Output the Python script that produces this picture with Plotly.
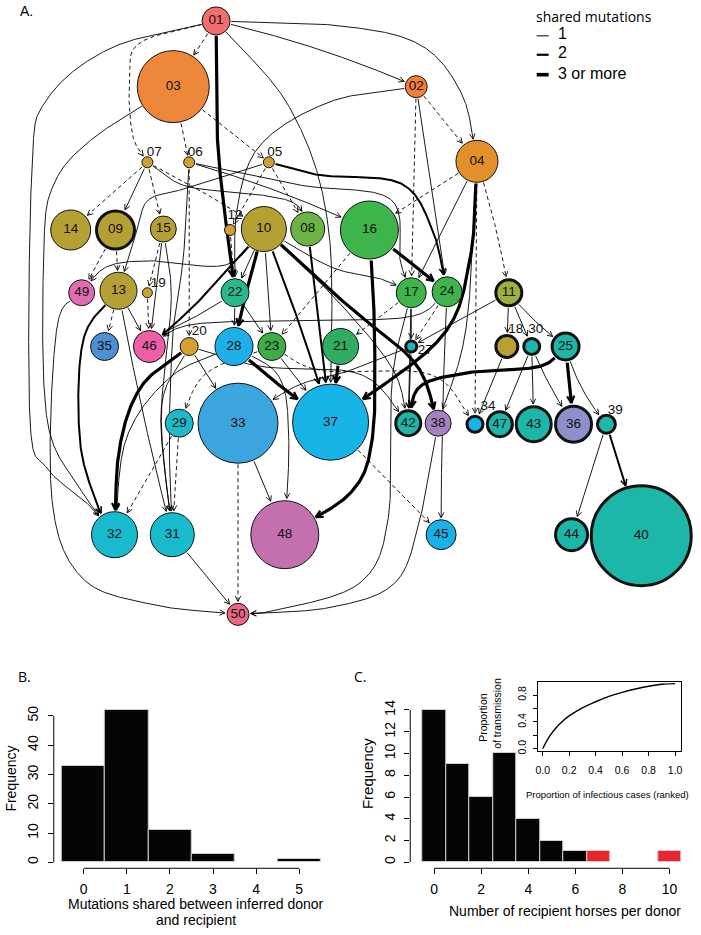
import numpy as np
import plotly.graph_objects as go

W, H = 701, 935
FONT = "Liberation Sans, Arial, sans-serif"

# ---------------- Panel A: nodes ----------------
node_ids = ["01","02","03","04","05","06","07","08","09","10","11","12","13","14","15","16",
            "17","18","19","20","21","22","23","24","25","27","28","29","30","31","32","33",
            "34","35","36","37","38","39","40","42","43","44","45","46","47","48","49","50"]
node_x = [215,416,172,477,268,188,146,307,114,263,509,229,117,69,162,369,
          411,507,146,188,340,234,271,447,566,411,233,178,532,171,113,237,
          475,103,574,330,438,607,642,408,534,572,441,148,500,284,80,237]
node_y = [21,87,87,162,163,163,163,230,231,230,294,231,292,231,230,231,
          294,348,294,348,348,294,348,293,348,348,348,425,348,537,537,425,
          426,348,426,424,425,426,538,425,426,537,537,348,426,537,294,617]
node_r = [14,11,36,21,5.5,5.5,5.5,17,19,22.5,13,5.5,18.5,20,13,29,
          15,11,5,9,18,14,14,15,13.5,5.5,19,14,8,22,23,40,
          8,14,18,38,13,9,50,12.5,17.5,16,15,16,12.5,34,13,11]
node_color = ["#F26D6D","#F07F3C","#EE873A","#E2902B","#CFA033","#CFA033","#C9A233","#6BB345",
              "#B5A033","#B5A033","#9CB13B","#D4A030","#B5A033","#B5A033","#B5A033","#3DB54A",
              "#3DB54A","#B8A032","#C9A233","#D4A030","#30AD63","#27B98D","#3CAE48","#3DB54A",
              "#1CB7A8","#19B9BE","#1DB0E8","#1EBAC9","#1CB7A8","#18BBCD","#18BBCD","#3BA6DD",
              "#1DB1E8","#4A90D2","#8E8FCB","#17B3E7","#A581C0","#1CB7A8","#1CB7A8","#1CB7A8",
              "#1CB7A8","#1CB7A8","#1AB1E6","#EE5FA7","#1CB7A8","#C570AE","#E06CB3","#E96780"]
node_bold = ["09","11","18","25","27","30","34","36","39","40","42","43","44","47"]
outer_label_offset = {"05": (6, -10), "06": (6, -10), "07": (7, -10), "12": (5, -14),
                      "19": (11, -9), "20": (10, -15), "27": (14, 4), "18": (9, -17),
                      "30": (4, -17), "34": (13, -18), "39": (9, -14)}

# edges: donor, recipient, shared-mutation class ('d' = 0 / dashed, 1, 2, 3 = 3 or more)
edges = [
    ("01","03","d"),("01","07","d"),("01","02","1"),("01","04","1"),("01","22","3"),
    ("01","37","1"),("01","32","1"),("03","06","d"),("03","05","d"),("03","32","1"),
    ("07","14","d"),("07","09","1"),("07","15","d"),("07","10","d"),("07","08","1"),
    ("05","12","d"),("05","08","d"),("05","13","1"),("05","24","2"),("06","16","1"),
    ("06","17","1"),("06","20","d"),("06","31","1"),("04","16","d"),("02","04","d"),
    ("02","17","d"),("02","24","1"),("02","22","1"),("04","17","1"),("04","37","3"),
    ("04","34","d"),("04","11","d"),("04","38","1"),("16","24","3"),("16","48","3"),
    ("16","23","d"),("08","37","2"),("10","22","1"),("10","23","1"),("10","28","3"),
    ("10","37","2"),("10","38","3"),("10","42","1"),("10","17","1"),("10","46","2"),
    ("10","49","1"),("09","49","d"),("09","13","d"),("15","19","d"),("15","46","1"),
    ("15","31","1"),("12","22","d"),("13","35","d"),("13","46","1"),("13","32","2"),
    ("13","31","1"),("19","46","d"),("22","28","1"),("22","23","1"),("22","46","1"),
    ("17","27","1"),("17","21","d"),("17","42","1"),("17","50","1"),("24","27","d"),
    ("24","46","1"),("24","45","1"),("11","27","1"),("11","18","1"),("11","30","1"),
    ("11","25","1"),("18","34","1"),("30","47","1"),("30","43","1"),("30","36","1"),
    ("25","42","3"),("25","36","3"),("25","39","1"),("39","44","1"),("39","40","2"),
    ("27","42","1"),("27","33","1"),("20","33","1"),("20","32","3"),("20","31","1"),
    ("20","42","1"),("28","37","3"),("28","48","1"),("28","32","1"),("23","34","d"),
    ("23","29","d"),("23","37","1"),("21","37","3"),("29","32","d"),("29","31","d"),
    ("33","48","1"),("33","50","d"),("37","45","d"),("38","50","1"),("31","50","1"),
    ("49","50","1"),
]

# routing (drawing geometry only)
edge_bend = {("01","02"): -10, ("06","16"): -8, ("04","11"): -5, ("10","28"): 3, ("10","37"): -5,
             ("13","31"): 5, ("24","45"): 3, ("11","25"): 5, ("30","36"): 5, ("25","39"): 10,
             ("28","37"): 5}
edge_via = {
    ("01","07"): [(140,42),(128,75),(131,135)],
    ("01","04"): [(340,26),(420,45),(462,95)],
    ("01","22"): [(217,150)],
    ("01","37"): [(290,110),(328,230)],
    ("01","32"): [(110,48),(45,100),(30,170),(28,420),(45,470),(85,505)],
    ("03","32"): [(90,140),(52,185),(42,250),(45,420),(78,490)],
    ("07","10"): [(200,192)],
    ("07","08"): [(185,187),(255,195),(295,205)],
    ("05","13"): [(190,188),(148,200),(136,230)],
    ("05","24"): [(320,176),(400,184),(432,230)],
    ("06","17"): [(300,186),(390,200),(400,262)],
    ("06","31"): [(182,260),(172,330),(168,440)],
    ("02","22"): [(330,102),(260,145),(236,210)],
    ("04","37"): [(470,260),(440,340)],
    ("04","38"): [(466,330)],
    ("16","48"): [(374,330),(372,440),(350,495)],
    ("10","38"): [(345,305),(415,365)],
    ("10","42"): [(335,300),(392,370)],
    ("10","17"): [(330,268),(380,280)],
    ("10","46"): [(200,300)],
    ("10","49"): [(225,266),(150,262),(105,268)],
    ("15","31"): [(170,300),(160,420)],
    ("13","32"): [(82,340),(78,440),(95,505)],
    ("22","46"): [(200,315),(170,330)],
    ("17","50"): [(392,380),(388,520),(360,585),(280,612)],
    ("24","46"): [(410,318),(300,322),(190,326)],
    ("25","42"): [(540,368),(470,374),(420,388)],
    ("27","33"): [(350,372),(295,388)],
    ("20","32"): [(140,388),(118,450)],
    ("20","31"): [(160,410)],
    ("20","42"): [(260,368),(360,376)],
    ("28","48"): [(278,378),(288,440)],
    ("28","32"): [(170,378),(125,440)],
    ("23","34"): [(320,372),(430,376)],
    ("23","29"): [(205,375)],
    ("38","50"): [(420,520),(395,585),(330,610)],
    ("49","50"): [(55,330),(50,500),(80,580),(150,607)],
}

legend_labels = ["1", "2", "3 or more"]

# ---------------- Panel B data ----------------
B_x = [0, 1, 2, 3, 4, 5]
B_freq = [33, 52, 11, 3, 0, 1]
B_ticks = [0, 1, 2, 3, 4, 5]
B_yticks = [0, 10, 20, 30, 40, 50]

# ---------------- Panel C data ----------------
C_x = [0, 1, 2, 3, 4, 5, 6, 7, 10]
C_freq = [14, 9, 6, 10, 4, 2, 1, 1, 1]
C_red_bins = [7, 10]
C_ticks = [0, 2, 4, 6, 8, 10]
C_yticks = [0, 2, 4, 6, 8, 10, 12, 14]

inset_x = [0.0, 0.05, 0.1, 0.15, 0.2, 0.3, 0.4, 0.5, 0.6, 0.7, 0.8, 0.9, 1.0]
inset_y = [0.0, 0.18, 0.31, 0.41, 0.49, 0.61, 0.70, 0.78, 0.84, 0.89, 0.93, 0.96, 0.97]
inset_xticks = [0.0, 0.2, 0.4, 0.6, 0.8, 1.0]
inset_yticks = [0.0, 0.2, 0.4, 0.6, 0.8]
inset_ytext = ["0.0", "", "0.4", "", "0.8"]

# ---------------- geometry helpers ----------------
pos = {}
for i, nid in enumerate(node_ids):
    bw = 3 if nid in node_bold else 1
    pos[nid] = (node_x[i], node_y[i], node_r[i] + bw / 2.0)


def catmull(pts):
    P = np.array(pts, float)
    P = np.vstack([2 * P[0] - P[1], P, 2 * P[-1] - P[-2]])
    out = []
    for i in range(1, len(P) - 2):
        p0, p1, p2, p3 = P[i - 1], P[i], P[i + 1], P[i + 2]
        n = max(12, int(np.hypot(*(p2 - p1)) / 1.0))
        t = np.linspace(0, 1, n, endpoint=False)[:, None]
        seg = 0.5 * ((2 * p1) + (-p0 + p2) * t + (2 * p0 - 5 * p1 + 4 * p2 - p3) * t ** 2
                     + (-p0 + 3 * p1 - 3 * p2 + p3) * t ** 3)
        out.append(seg)
    out.append(P[-2][None, :])
    return np.vstack(out)


def quad(S, D, b):
    S = np.array(S, float); D = np.array(D, float)
    d = D - S
    L = np.hypot(*d)
    u = d / L
    nrm = np.array([-u[1], u[0]])
    C = (S + D) / 2 + b * nrm
    n = max(20, int(L))
    t = np.linspace(0, 1, n)[:, None]
    return (1 - t) ** 2 * S + 2 * (1 - t) * t * C + t ** 2 * D


def trim(pts, s, d):
    ds = np.hypot(pts[:, 0] - s[0], pts[:, 1] - s[1])
    dd = np.hypot(pts[:, 0] - d[0], pts[:, 1] - d[1])
    i0 = np.where(ds > s[2] + 0.3)[0][0]
    i1 = np.where(dd > d[2] + 1.0)[0][-1]
    return pts[i0:i1 + 1]


def head(pts, L, ang=np.radians(27)):
    E = pts[-1]
    seg = np.hypot(*(pts[1:] - pts[:-1]).T)
    cum = np.cumsum(seg[::-1])
    k = int(np.searchsorted(cum, L * 0.8))
    Bk = pts[max(0, len(pts) - 2 - k)]
    dv = E - Bk
    dv = dv / np.hypot(*dv)
    c, s = np.cos(ang), np.sin(ang)
    r1 = np.array([dv[0] * c - dv[1] * s, dv[0] * s + dv[1] * c])
    r2 = np.array([dv[0] * c + dv[1] * s, -dv[0] * s + dv[1] * c])
    return [E - L * r1, E, E - L * r2]


line_w = {"d": 0.9, "1": 0.9, "2": 2.0, "3": 3.2}
head_w = {"d": 0.9, "1": 0.9, "2": 1.5, "3": 2.2}
head_L = {"d": 6, "1": 6, "2": 7, "3": 8}

lines = {k: ([], []) for k in line_w}
heads = {k: ([], []) for k in line_w}
for s, d, k in edges:
    S = pos[s]; D = pos[d]
    if (s, d) in edge_via:
        pts = catmull([S[:2]] + edge_via[(s, d)] + [D[:2]])
    else:
        pts = quad(S[:2], D[:2], edge_bend.get((s, d), 0))
    pts = trim(pts, S, D)
    lines[k][0].extend(list(pts[:, 0]) + [None])
    lines[k][1].extend(list(pts[:, 1]) + [None])
    hp = head(pts, head_L[k])
    heads[k][0].extend([p[0] for p in hp] + [None])
    heads[k][1].extend([p[1] for p in hp] + [None])

fig = go.Figure()
for k in ["d", "1", "2", "3"]:
    fig.add_trace(go.Scatter(x=lines[k][0], y=lines[k][1], mode="lines", xaxis="x", yaxis="y",
                             line=dict(color="black", width=line_w[k],
                                       dash="4px,3px" if k == "d" else "solid"),
                             hoverinfo="skip", showlegend=False))
    fig.add_trace(go.Scatter(x=heads[k][0], y=heads[k][1], mode="lines", xaxis="x", yaxis="y",
                             line=dict(color="black", width=head_w[k]),
                             hoverinfo="skip", showlegend=False))

fig.add_trace(go.Scatter(
    x=node_x, y=node_y, mode="markers", xaxis="x", yaxis="y",
    marker=dict(size=[2 * r for r in node_r], color=node_color, opacity=1,
                line=dict(color="#111111", width=[3 if n in node_bold else 1 for n in node_ids])),
    hoverinfo="skip", showlegend=False))

in_ids = [n for n in node_ids if n not in outer_label_offset]
fig.add_trace(go.Scatter(
    x=[node_x[node_ids.index(n)] for n in in_ids],
    y=[node_y[node_ids.index(n)] for n in in_ids],
    text=in_ids, mode="text", xaxis="x", yaxis="y",
    textfont=dict(family=FONT, size=13.5, color="#111111"),
    hoverinfo="skip", showlegend=False))
out_ids = list(outer_label_offset)
fig.add_trace(go.Scatter(
    x=[node_x[node_ids.index(n)] + outer_label_offset[n][0] for n in out_ids],
    y=[node_y[node_ids.index(n)] + outer_label_offset[n][1] for n in out_ids],
    text=out_ids, mode="text", xaxis="x", yaxis="y",
    textfont=dict(family=FONT, size=13.5, color="#111111"),
    hoverinfo="skip", showlegend=False))

# ---------------- Panel B ----------------
fig.add_trace(go.Bar(x=[x for x, f in zip(B_x, B_freq) if f > 0],
                     y=[f for f in B_freq if f > 0], width=1, xaxis="x2", yaxis="y2",
                     marker=dict(color="#050505", line=dict(color="#cfcfcf", width=1)),
                     hoverinfo="skip", showlegend=False))

# ---------------- Panel C ----------------
fig.add_trace(go.Bar(x=C_x, y=C_freq, width=1, xaxis="x3", yaxis="y3",
                     marker=dict(color=["#E8242C" if x in C_red_bins else "#050505" for x in C_x],
                                 line=dict(color="#cfcfcf", width=1)),
                     hoverinfo="skip", showlegend=False))
fig.add_trace(go.Scatter(x=inset_x, y=inset_y, mode="lines", xaxis="x4", yaxis="y4",
                         line=dict(color="black", width=1.4, shape="spline"),
                         hoverinfo="skip", showlegend=False))

tickfont = dict(family=FONT, size=14, color="black")
small_tf = dict(family=FONT, size=10.5, color="black")
common = dict(showgrid=False, zeroline=False, showline=False, ticks="outside", ticklen=5,
              tickwidth=1, tickcolor="black", fixedrange=True)

fig.update_layout(
    width=W, height=H, margin=dict(l=0, r=0, t=0, b=0),
    paper_bgcolor="white", plot_bgcolor="rgba(0,0,0,0)", bargap=0,
    xaxis=dict(domain=[0, 1], range=[0, W], visible=False, fixedrange=True),
    yaxis=dict(domain=[0, 1], range=[H, 0], visible=False, fixedrange=True),
    xaxis2=dict(domain=[52 / W, 330 / W], range=[-0.693, 5.727], anchor="y2",
                tickvals=B_ticks, tickfont=tickfont, ticklabelstandoff=3, **common),
    yaxis2=dict(domain=[63 / H, 235 / H], range=[-2.04, 56.46], anchor="x2",
                tickvals=B_yticks, tickangle=-90, tickfont=tickfont, ticklabelstandoff=4, **common),
    xaxis3=dict(domain=[410 / W, 695 / W], range=[-1.015, 11.04], anchor="y3",
                tickvals=C_ticks, tickfont=tickfont, ticklabelstandoff=3, **common),
    yaxis3=dict(domain=[63 / H, 235 / H], range=[-0.549, 15.19], anchor="x3",
                tickvals=C_yticks, tickangle=-90, tickfont=tickfont, ticklabelstandoff=4, **common),
    xaxis4=dict(domain=[538 / W, 682 / W], range=[-0.0376, 1.045], anchor="y4",
                tickvals=inset_xticks, ticktext=["%.1f" % v for v in inset_xticks],
                tickfont=small_tf, showgrid=False, zeroline=False, showline=True, mirror=True,
                linecolor="black", linewidth=1, ticks="outside", ticklen=4, tickcolor="black",
                ticklabelstandoff=6, fixedrange=True),
    yaxis4=dict(domain=[(H - 754) / H, (H - 685) / H], range=[-0.0296, 0.9926], anchor="x4",
                tickvals=inset_yticks, ticktext=inset_ytext, tickangle=-90,
                tickfont=small_tf, showgrid=False, zeroline=False, showline=True, mirror=True,
                linecolor="black", linewidth=1, ticks="outside", ticklen=4, tickcolor="black",
                ticklabelstandoff=3, fixedrange=True),
)

shapes = [
    dict(type="line", xref="x2", yref="y2 domain", x0=B_ticks[0], x1=B_ticks[-1], y0=0, y1=0,
         line=dict(color="black", width=1)),
    dict(type="line", xref="x2 domain", yref="y2", x0=0, x1=0, y0=B_yticks[0], y1=B_yticks[-1],
         line=dict(color="black", width=1)),
    dict(type="line", xref="x3", yref="y3 domain", x0=C_ticks[0], x1=C_ticks[-1], y0=0, y1=0,
         line=dict(color="black", width=1)),
    dict(type="line", xref="x3 domain", yref="y3", x0=0, x1=0, y0=C_yticks[0], y1=C_yticks[-1],
         line=dict(color="black", width=1)),
]
# legend glyphs for panel A
for i, (lw, yy) in enumerate(zip([1, 2.2, 3.6], [36, 55, 75])):
    shapes.append(dict(type="line", xref="x", yref="y", x0=537, x1=549, y0=yy, y1=yy,
                       line=dict(color="black", width=lw)))
fig.update_layout(shapes=shapes)

ann = []
def txt(x, y, t, size=14, family=FONT, xanchor="center", angle=0):
    ann.append(dict(x=x, y=y, xref="x", yref="y", text=t, showarrow=False, xanchor=xanchor,
                    yanchor="middle", textangle=angle,
                    font=dict(family=family, size=size, color="black")))

txt(16, 11, "A.", 14, xanchor="left")
txt(14, 679, "B.", 14, family="Open Sans, sans-serif", xanchor="left")
txt(351, 679, "C.", 14, family="Open Sans, sans-serif", xanchor="left")
txt(534, 17, "shared mutations", 14, family="Open Sans, sans-serif", xanchor="left")
for lab, yy in zip(legend_labels, [34, 53, 74]):
    txt(556, yy, lab, 16, xanchor="left")
txt(195, 908, "Mutations shared between inferred donor", 14)
txt(195, 924, "and recipient", 14)
txt(9, 782, "Frequency", 14, angle=-90)
txt(367, 777, "Frequency", 15, angle=-90)
txt(565, 915, "Number of recipient horses per donor", 14)
txt(608, 798, "Proportion of infectious cases (ranked)", 9.5)
txt(483, 720, "Proportion", 10.5, angle=-90)
txt(497, 716, "of transmission", 10.5, angle=-90)
fig.update_layout(annotations=ann)

fig.write_html("out.html", config={"displayModeBar": False},
               post_script="document.body.style.margin='0';document.body.style.padding='0';")
